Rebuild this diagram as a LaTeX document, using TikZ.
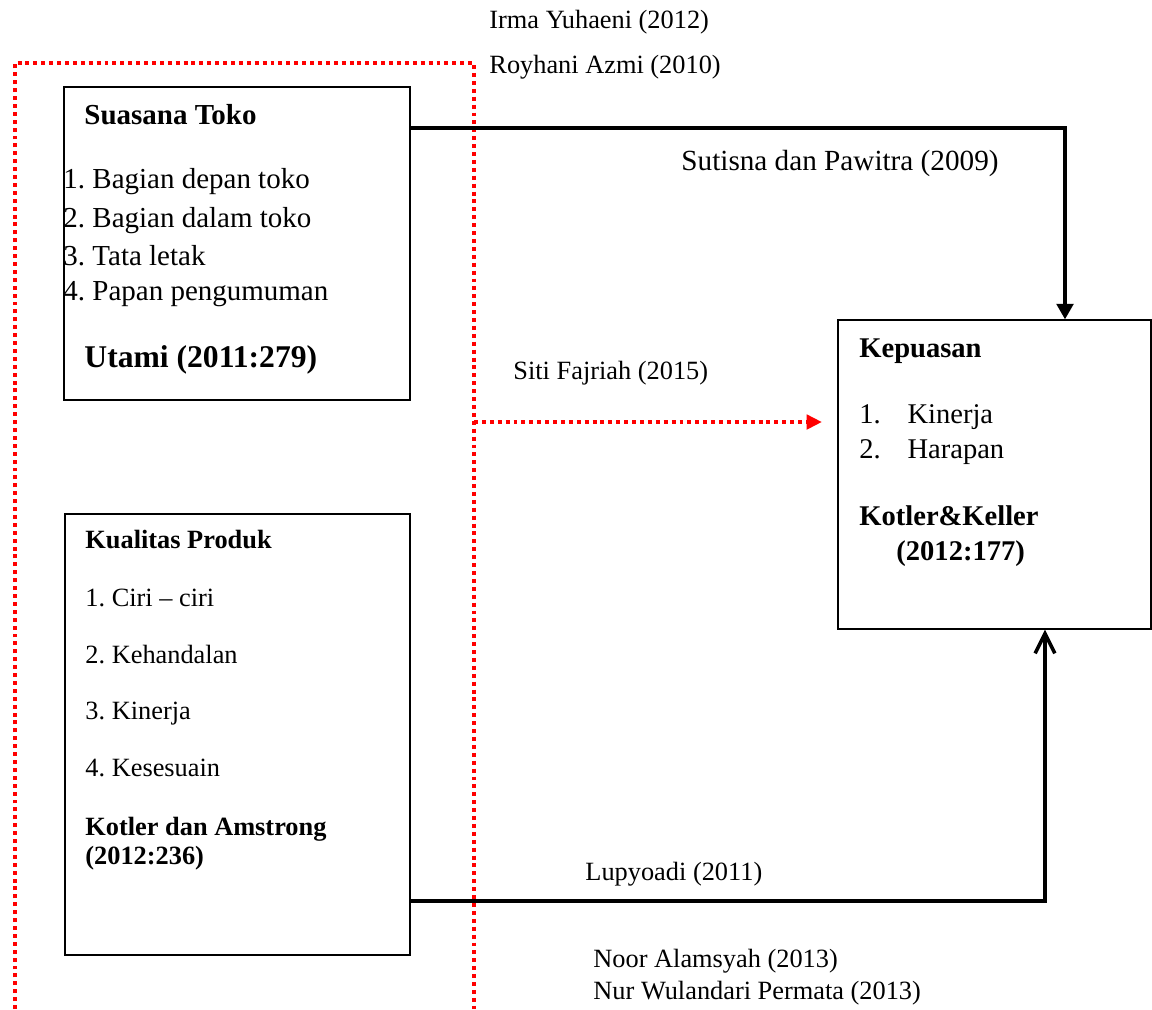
\documentclass[tikz,border=0pt]{standalone}
\usepackage{fontspec}
\setmainfont{Liberation Serif}
\usetikzlibrary{arrows.meta,fit}
\frenchspacing

\begin{document}
\begin{tikzpicture}[x=0.016cm, y=-0.016cm,
  box/.style={draw, line width=0.6pt, inner sep=0pt},
  txt/.style={anchor=base west, inner sep=0pt, font=\fontsize{12}{14}\selectfont},
  tokotxt/.style={txt, font=\fontsize{13.2}{15}\selectfont},
  puastxt/.style={txt, font=\fontsize{13}{15}\selectfont},
  link/.style={line width=1.6pt},
  redline/.style={red, line width=1.8pt, dash pattern=on 1.8pt off 1.8pt}]
  \useasboundingbox (0,0) rectangle (1152,1009);

  % boxes
  \node[box, fit={(64,87) (410,400)}] (toko) {};
  \node[box, fit={(65,514) (410,955)}] (produk) {};
  \node[box, fit={(838,320) (1151,629)}] (puas) {};

  % red frame
  \draw[redline] (15,1009) -- (15,63) -- (474,63) -- (474,1009);
  \coordinate (sitiA) at (474,422);
  \coordinate (sitiB) at (822,422);
  \draw[redline, -{Triangle[length=7pt,width=6.5pt]}] (sitiA) -- (sitiB);

  % connectors
  \coordinate (k1) at (1065,128);
  \coordinate (k2) at (1045,901);
  \draw[link, -{Triangle[length=7pt,width=7.5pt]}] (toko.east |- k1) -- (k1) -- (k1 |- puas.north);
  \draw[link, -{Straight Barb[length=9pt,width=9pt]}] (produk.east |- k2) -- (k2) -- (k2 |- puas.south);

  % references
  \node[txt] (irma) at (489,28) {Irma Yuhaeni (2012)};
  \node[txt] (royhani) at (489,73) {Royhani Azmi (2010)};
  \node[txt, font=\fontsize{13.3}{15}\selectfont] (sutisna) at (681,170) {Sutisna dan Pawitra (2009)};
  \node[txt] (siti) at (513,379) {Siti Fajriah (2015)};
  \node[txt] (lupyoadi) at (585,880) {Lupyoadi (2011)};
  \node[txt] (noor) at (593,967) {Noor Alamsyah (2013)};
  \node[txt] (nur) at (593,999) {Nur Wulandari Permata (2013)};

  % Suasana Toko
  \node[tokotxt, font=\fontsize{13.2}{15}\selectfont\bfseries] (tokoT) at (84,124) {Suasana Toko};
  \node[tokotxt] (toko1) at (63,188) {1. Bagian depan toko};
  \node[tokotxt] (toko2) at (63,227) {2. Bagian dalam toko};
  \node[tokotxt] (toko3) at (63,265) {3. Tata letak};
  \node[tokotxt] (toko4) at (63,300) {4. Papan pengumuman};
  \node[txt, font=\fontsize{14.4}{16}\selectfont\bfseries] (tokoR) at (84,367) {Utami (2011:279)};

  % Kualitas Produk
  \node[txt, font=\fontsize{12}{14}\selectfont\bfseries] (produkT) at (85,548) {Kualitas Produk};
  \node[txt] (produk1) at (85,606) {1. Ciri -- ciri};
  \node[txt] (produk2) at (85,663) {2. Kehandalan};
  \node[txt] (produk3) at (85,719) {3. Kinerja};
  \node[txt] (produk4) at (85,776) {4. Kesesuain};
  \node[txt, font=\fontsize{12}{14}\selectfont\bfseries] (produkR) at (85,835) {Kotler dan Amstrong};
  \node[txt, font=\fontsize{12}{14}\selectfont\bfseries] (produkY) at (85,864) {(2012:236)};

  % Kepuasan
  \node[puastxt, font=\fontsize{13}{15}\selectfont\bfseries] (puasT) at (859,357) {Kepuasan};
  \node[puastxt] (puas1) at (859,423) {\makebox[0.77cm][l]{1.}Kinerja};
  \node[puastxt] (puas2) at (859,458) {\makebox[0.77cm][l]{2.}Harapan};
  \node[puastxt, font=\fontsize{13}{15}\selectfont\bfseries] (puasR) at (859,525) {Kotler\&Keller};
  \node[puastxt, font=\fontsize{13}{15}\selectfont\bfseries] (puasY) at (896,560) {(2012:177)};
\end{tikzpicture}
\end{document}
